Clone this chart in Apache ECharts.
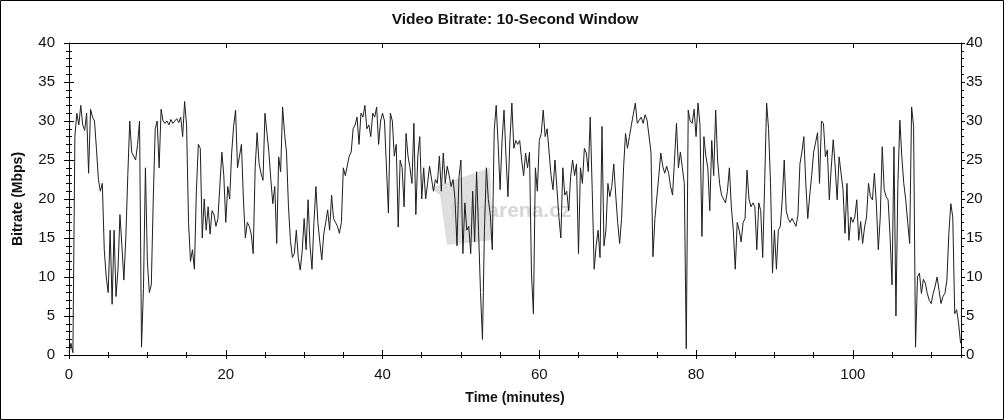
<!DOCTYPE html>
<html>
<head>
<meta charset="utf-8">
<script src="https://cdn.jsdelivr.net/npm/echarts@6/dist/echarts.min.js"></script>
<style>
html,body{margin:0;padding:0;background:#fff;}
#chart{width:1004px;height:420px;}
</style>
</head>
<body>
<div id="chart"></div>
<script>
// Sampling interval of the series (minutes per sample)
const STEP = 0.25;
const titleText = 'Video Bitrate: 10-Second Window';
const xName = 'Time (minutes)';
const yName = 'Bitrate (Mbps)';
const watermark = 'filmarena.cz';

// Bitrate values (Mbps), one every STEP minutes
const segA = [
 0.3, 1.5, 0.3, 28, 31, 29.5, 32, 29.5, 28.8, 31,
 23.3, 31.5, 30.5, 30, 26.5, 22.5, 21, 22, 13.5, 10,
 8, 16, 6.5, 16, 7.5, 11, 18, 14, 9.6, 15,
 23, 30, 26, 26, 25, 27, 30, 1.0, 8.5, 24,
 12, 8, 9, 20, 29, 30, 24, 31.5, 30, 29.7,
 30, 29.5, 30.2, 29.7, 30, 30.3, 29.8, 30.5, 28, 32.5,
 29.5, 17, 12, 13.5, 11, 21, 27, 26.5, 15, 20,
 16, 19, 15.5, 18.5, 18, 16.5, 17.5, 17.5
];
const segB = [
 26, 23, 17, 21.6, 20, 25.9, 29.3, 31.4, 24, 24,
 27, 20, 15, 17, 16.5, 15.5, 13, 24, 28.5, 24.5,
 23.3, 22.4, 31, 28.5, 26, 22.5, 19.4, 21.6, 14.3, 25.4,
 23.5, 31.8, 28.4, 26, 19, 14.7, 12.5, 13, 16, 12.5,
 10.9, 13.3, 17.5, 13.5, 19.9, 14, 11, 17, 21.6, 17,
 14.5, 12.2, 15.5, 17, 18.6, 16, 20.5, 17.5, 17, 16.5,
 15.6, 17, 24, 23, 22.9, 25.5, 26, 29, 29.5, 30.5,
 27, 31, 30.5, 32, 29, 29.5, 28
];
const segC = [
 31, 30.5, 31.8, 27, 30, 31, 30, 30, 18.2, 31,
 30, 25.5, 27, 16.4, 25, 24, 19, 28.4, 25.5, 24,
 22, 29.7, 18, 25.5, 28, 20, 24, 20, 22, 24.2,
 24, 21, 22.5, 22, 25.5, 21, 25.9, 22, 24.2, 23,
 21.6, 22.5, 19.9, 14, 22.8, 25, 13, 19.5, 16, 16.5,
 13, 21, 14.5, 23.5, 16, 8, 2, 16, 24, 19.9,
 18, 13.5, 28.8, 32, 27, 21.2, 27.5, 31.4, 25.5, 20.3,
 27.5, 32.3, 26.5, 27.5, 27, 27.5
];
const segD = [
 25, 23, 25.9, 24, 26, 10.5, 5.3, 24, 21, 27.5,
 28.4, 31.4, 28, 29, 26, 23, 21.2, 25, 25, 17.7,
 15, 24, 20.5, 21, 18.5, 22.9, 25, 23, 24.5, 13,
 24, 22, 26.5, 25.9, 23.5, 30.5, 21.2, 11, 14, 16,
 12.5, 29.3, 14, 16, 22, 20.3, 21.6, 24.5, 20.5, 17,
 14.3, 17.5, 24, 28.4, 26.5, 28, 29.5, 29.5, 32.3, 29.7,
 30.1, 30.5, 29.7, 30.8, 30.1, 30, 26, 12.6, 17.5, 17.3,
 23, 25.9, 24.2, 23.3, 24.2, 23.3, 21.6
];
const segE = [
 20.5, 25, 29.7, 24, 26, 24, 22, 0.8, 31.4, 30,
 29.7, 31.5, 28, 32.3, 29.5, 15.2, 28, 25.5, 24, 18.5,
 27.5, 23, 31.4, 25, 22, 20.5, 20.7, 19.5, 21, 24,
 19, 16, 11, 17, 16, 14.5, 17, 17.5, 23.7, 20,
 19, 19.5, 19, 13.5, 19.5, 18.5, 12.5, 22, 32.3, 29,
 22, 10.5, 16, 11, 16, 16.5, 20, 25, 18.5, 17.5,
 17, 17.5, 17, 16.5, 18, 24.5, 26, 28, 22, 17.5,
 20.5, 23, 26, 26, 28.5, 22, 30
];
const segF = [
 29.7, 25.4, 26.3, 19.9, 24.1, 27.6, 24.1, 19.9, 25.4, 25.4,
 21.2, 15.6, 22, 14.7, 17.7, 17, 17.7, 19.9, 14.7, 17.1,
 14.3, 16.4, 17.7, 22, 20.3, 19.9, 23.3, 19.4, 13.5, 17.7,
 26.7, 21.2, 20.3, 19.9, 15.2, 9, 26.7, 5, 22, 30.1,
 25.4, 22, 19.9, 17, 14.3, 31.8, 29.3, 1.0, 10, 10.5,
 7.9, 9.7, 9.2, 7.9, 7, 6.6, 7.9, 8.8, 10, 8.3,
 6.6, 7.5, 7.9, 9.6, 15.6, 19.4, 17.7, 5.3, 5.8, 4, 1.5
];

const bitrate = [].concat(segA, segB, segC, segD, segE, segF);
const seriesData = bitrate.map((v, i) => [i * STEP, v]);

const FONT = "'Liberation Sans', Arial, sans-serif";
const X_MAX = 113.8;

function xAx(opts) {
  return Object.assign({
    type: 'value', min: 0, max: X_MAX, interval: 20,
    splitLine: { show: false },
    axisLine: { show: false, lineStyle: { color: '#000', width: 1 } },
    axisTick: { show: true, inside: true, length: 5, lineStyle: { color: '#000' } },
    axisLabel: { show: false }
  }, opts);
}
function yAx(opts) {
  return Object.assign({
    type: 'value', min: 0, max: 40, interval: 5,
    splitLine: { show: false },
    axisLine: { show: false, lineStyle: { color: '#000', width: 1 } },
    axisTick: { show: true, inside: true, length: 5, lineStyle: { color: '#000' } },
    minorTick: { show: true, splitNumber: 5, length: 3, lineStyle: { color: '#000' } },
    axisLabel: { show: false }
  }, opts);
}

const chart = echarts.init(document.getElementById('chart'), null, { renderer: 'canvas' });
chart.setOption({
  animation: false,
  backgroundColor: '#fff',
  grid: { left: 69, right: 43, top: 43, bottom: 65, show: false },
  xAxis: [
    xAx({
      position: 'bottom',
      axisLine: { show: true, onZero: false, lineStyle: { color: '#000', width: 1 } },
      axisTick: { show: true, inside: false, length: 4, lineStyle: { color: '#000' } },
      axisLabel: { show: true, showMaxLabel: false, margin: 12, color: '#111', fontSize: 15, fontFamily: FONT },
      name: xName, nameLocation: 'middle', nameGap: 36,
      nameTextStyle: { fontWeight: 'bold', fontSize: 14, color: '#111', fontFamily: FONT }
    }),
    xAx({ position: 'bottom' }),
    xAx({ position: 'bottom', interval: 5, axisTick: { show: true, inside: true, length: 3, lineStyle: { color: '#000' } } }),
    xAx({ position: 'top', axisLine: { show: true, onZero: false, lineStyle: { color: '#000', width: 1 } } }),
    xAx({ position: 'top', interval: 5, axisTick: { show: true, inside: true, length: 3, lineStyle: { color: '#000' } } })
  ],
  yAxis: [
    yAx({
      position: 'left',
      axisLine: { show: true, onZero: false, lineStyle: { color: '#000', width: 1 } },
      axisTick: { show: true, inside: false, length: 5, lineStyle: { color: '#000' } },
      axisLabel: { show: true, margin: 14, color: '#111', fontSize: 15, fontFamily: FONT },
      name: yName, nameLocation: 'middle', nameGap: 44,
      nameTextStyle: { fontWeight: 'bold', fontSize: 14, color: '#111', fontFamily: FONT }
    }),
    yAx({ position: 'left' }),
    yAx({
      position: 'right',
      axisLine: { show: true, onZero: false, lineStyle: { color: '#000', width: 1 } },
      axisTick: { show: true, inside: false, length: 4, lineStyle: { color: '#000' } },
      axisLabel: { show: true, margin: 5, color: '#111', fontSize: 15, fontFamily: FONT }
    }),
    yAx({ position: 'right' })
  ],
  graphic: [
    { type: 'rect', z: 0, shape: { x: 0.5, y: 0.5, width: 1003, height: 419 },
      style: { fill: 'none', stroke: '#000', lineWidth: 1 } },
    { type: 'text', z: 0, x: 515, y: 12,
      style: { text: titleText, textAlign: 'center', fill: '#111',
        font: "bold 15.5px 'Liberation Sans', Arial, sans-serif" } },
    { type: 'polygon', z: 0,
      shape: { points: [[430, 188], [490, 168], [493, 240], [447, 245], [440, 195]] },
      style: { fill: '#dedede' } },
    { type: 'text', z: 0, x: 450, y: 201,
      style: { text: watermark, fill: '#d6d6d6',
        font: "bold 21px 'Liberation Sans', Arial, sans-serif" } }
  ],
  series: [{
    type: 'line',
    xAxisIndex: 0, yAxisIndex: 0,
    data: seriesData,
    showSymbol: false,
    symbol: 'none',
    z: 5,
    lineStyle: { color: '#1e1e1e', width: 1 }
  }]
});
</script>
</body>
</html>
